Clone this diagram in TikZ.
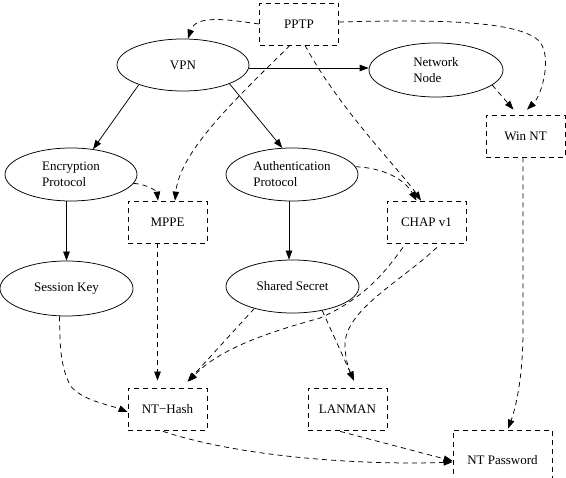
\documentclass[tikz,border=0pt]{standalone}
\usepackage{fontspec}
\setmainfont{Liberation Serif}
\usetikzlibrary{shapes.geometric,arrows.meta,calc}
\begin{document}
\begin{tikzpicture}[x=1pt,y=-1pt,
  font=\fontsize{13}{16}\selectfont,
  ell/.style={ellipse,draw,line width=0.75pt,inner sep=0pt},
  dbox/.style={rectangle,draw,line width=0.75pt,dash pattern=on 5pt off 4pt,minimum width=79pt,minimum height=42pt,inner sep=0pt},
  solidarrow/.style={line width=0.75pt,-{Triangle[length=9pt,width=6.5pt]}},
  dasharrow/.style={solidarrow,dash pattern=on 5pt off 4pt}]
\clip (0,0) rectangle (566,478);
\node[dbox] (pptp) at (299,24) {PPTP};
\node[ell,minimum width=132pt,minimum height=52pt] (vpn) at (183,65) {VPN};
\node[ell,minimum width=134pt,minimum height=54pt,align=left] (net) at (436,70) {Network\\Node};
\node[dbox] (winnt) at (525.5,136) {Win NT};
\node[ell,minimum width=132pt,minimum height=53pt,align=left] (enc) at (71,174.5) {Encryption\\Protocol};
\node[dbox] (mppe) at (167.5,222) {MPPE};
\node[ell,minimum width=132pt,minimum height=53pt,align=left] (auth) at (292,174.5) {Authentication\\Protocol};
\node[dbox] (chap) at (426.5,222) {CHAP v1};
\node[ell,minimum width=133pt,minimum height=55pt] (sess) at (66.5,288.5) {Session Key};
\node[ell,minimum width=133pt,minimum height=53pt] (shared) at (292.5,286.5) {Shared Secret};
\node[dbox] (nthash) at (167.5,409) {NT−Hash};
\node[dbox] (lanman) at (347.5,409) {LANMAN};
\node[dbox,minimum width=99pt,minimum height=60pt] (ntpass) at (502.5,460) {NT Password};

\draw[dasharrow] (pptp.west) .. controls (230,20) and (196,14) .. ($(vpn.north)+(5,0)$);
\draw[dasharrow] ($(pptp.east)+(0,-2)$) .. controls (450,19) and (522,22) .. (540,42) .. controls (552,58) and (542,95) .. ($(winnt.north)+(1.5,-5)$);
\draw[dasharrow] ($(pptp.south)+(-9,0)$) .. controls (240,95) and (180,150) .. ($(mppe.north)+(7.5,0)$);
\draw[dasharrow] ($(pptp.south)+(6,0)$) .. controls (340,110) and (400,170) .. ($(chap.north)+(-5.5,0)$);
\draw[solidarrow] ($(vpn.east)+(0,3)$) -- ($(net.west)+(0,-2)$);
\draw[solidarrow] (vpn.204) -- (enc.49);
\draw[solidarrow] (vpn.-22) -- (auth.110);
\draw[dasharrow] (net.-15) -- ($(winnt.north)+(-12,-5)$);
\draw[dasharrow] (enc.-8) .. controls (150,185) and (157,192) .. ($(mppe.north)+(-9.5,0)$);
\draw[dasharrow] (auth.7) .. controls (385,168) and (405,180) .. ($(chap.north)+(-10,0)$);
\draw[solidarrow] (sess.north |- enc.south) -- (sess.north);
\draw[solidarrow] ($(auth.south)+(-3,0)$) -- ($(shared.north)+(-3.5,0)$);
\draw[dasharrow] ($(mppe.south)+(-10,0)$) -- ($(nthash.north)+(-10,-7)$);
\draw[dasharrow] ($(sess.south)+(-7,0)$) .. controls (60,345) and (60,365) .. (70,385) .. controls (80,400) and (110,405) .. ($(nthash.west)+(0,3)$);
\draw[dasharrow] (shared.210) -- ($(nthash.north)+(20,-6)$);
\draw[dasharrow] ($(chap.south)+(-23.5,4)$) .. controls (385,272) and (365,298) .. (320,318) .. controls (270,332) and (220,348) .. ($(nthash.north)+(21,-6)$);
\draw[dasharrow] ($(chap.south)+(10.5,4)$) .. controls (400,282) and (345,310) .. (345,345) .. controls (345,360) and (350,372) .. ($(lanman.north)+(6.5,-7)$);
\draw[dasharrow] (shared.-39) -- ($(lanman.north)+(6.5,-7)$);
\draw[dasharrow] ($(nthash.south)+(-4.5,1)$) .. controls (250,460) and (380,465) .. ($(ntpass.west)+(0,2)$);
\draw[dasharrow] ($(lanman.south)+(-7.5,1)$) -- ($(ntpass.west)+(0,1)$);
\draw[dasharrow] ($(winnt.south)+(-2.5,0)$) -- (523,330) .. controls (523,380) and (515,410) .. ($(ntpass.north)+(5.5,-1)$);
\end{tikzpicture}
\end{document}
